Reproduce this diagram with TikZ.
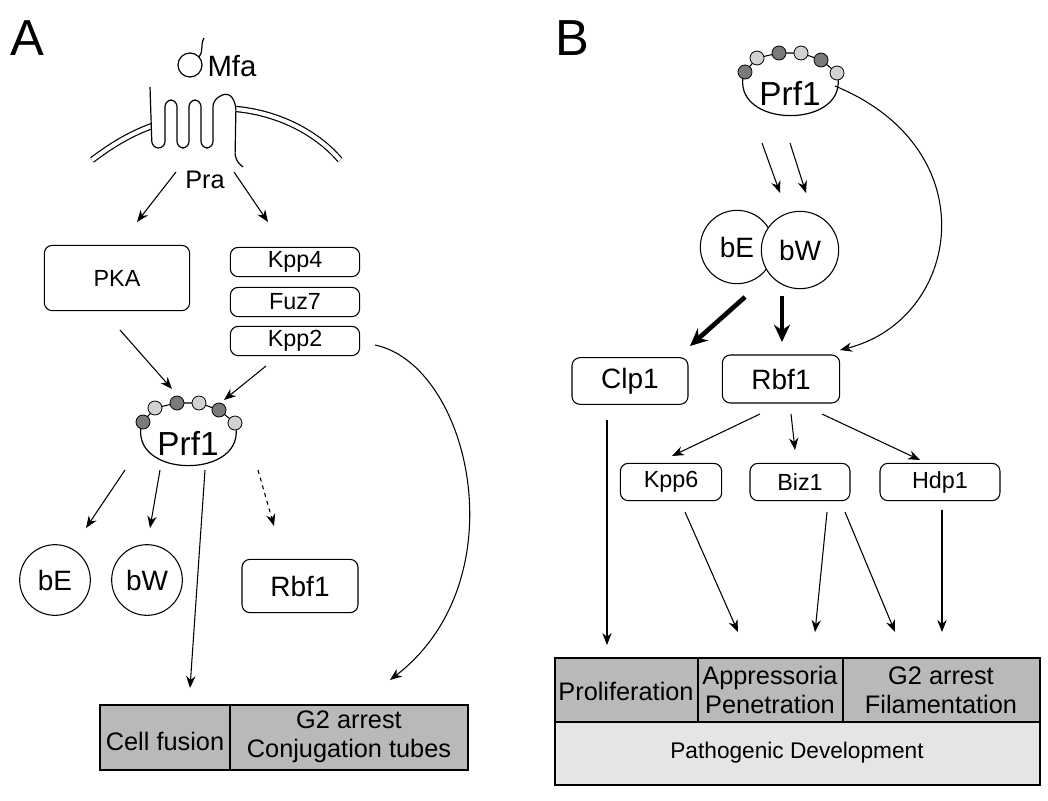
\documentclass[tikz,border=0pt]{standalone}
\usepackage{fontspec}
\setmainfont{Liberation Sans}
\usetikzlibrary{arrows.meta}
\begin{document}
\begin{tikzpicture}[x=0.75pt,y=-0.75pt,
  arr/.style={-{Stealth[length=9pt,width=7pt]},line width=0.8pt},
  thick arr/.style={-{Stealth[length=13pt,width=12pt]},line width=3.5pt},
  rbox/.style={draw,rounded corners=6pt,line width=0.8pt,inner sep=0pt},
  circ/.style={draw,circle,line width=0.8pt,inner sep=0pt},
  dk/.style={draw,fill=gray!70!black!80,line width=0.6pt},
  lt/.style={draw,fill=gray!35,line width=0.6pt},
  tab/.style={draw,line width=0.8pt,fill=gray!55},
  big/.style={font=\fontsize{21}{24}\selectfont},
  small/.style={font=\fontsize{17.5}{20}\selectfont},
  tbl/.style={font=\fontsize{19}{22}\selectfont,align=center}]
\useasboundingbox (0,0) rectangle (1048,800);
\newcommand\myprf[3]{%
  \begin{scope}[shift={(#1,#2)}]
  \draw[line width=0.9pt] (-46,-15) .. controls (-62,43) and (62,43) .. (47,-14);
  \draw[line width=0.8pt] (-45,-15)--(-33,-29)--(-11,-34)--(11,-34)--(31,-27)--(47,-14);
  \path[dk] (-45,-15) circle (7); \path[lt] (-33,-29) circle (7);
  \path[dk] (-11,-34) circle (7); \path[lt] (11,-34) circle (7);
  \path[dk] (31,-27) circle (7); \path[lt] (47,-14) circle (7);
  \node[font=\fontsize{25}{28}\selectfont] (#3) at (0,6) {Prf1};
  \end{scope}}
% Panel labels
\node[font=\fontsize{38}{42}\selectfont] (labA) at (27,38) {A};
\node[font=\fontsize{38}{42}\selectfont] (labB) at (572,38) {B};
% Panel A membrane
\draw[double,double distance=3pt,line width=0.9pt] (92,160) .. controls (112,145) and (130,134) .. (152,126);
\draw[double,double distance=3pt,line width=0.9pt] (236,109) .. controls (280,113) and (318,134) .. (340,160);
\draw[line width=0.9pt,rounded corners=5pt,fill=white] (150,87)--(152,148)--(165,148)--(165,100)--(177,100)--(177,148)--(189,148)--(189,100)--(201,100)--(201,148)--(213,148)--(213,100)--(228,92)--(236,103)--(235,160)--(243,167);
\draw[line width=0.9pt] (190,65) circle (12);
\draw[line width=0.9pt] (199,57) .. controls (204,50) and (200,45) .. (204,38);
\node[font=\fontsize{22}{25}\selectfont] (mfa) at (232,66) {Mfa};
\node[font=\fontsize{19}{22}\selectfont] (pra) at (205,180) {Pra};
\node[rbox,minimum width=109pt,minimum height=49pt,small] (pka) at (117,278) {PKA};
\node[rbox,minimum width=97pt,minimum height=22pt,small] (kpp4) at (295,262) {Kpp4};
\node[rbox,minimum width=97pt,minimum height=22pt,small] (fuz7) at (295,302) {Fuz7};
\node[rbox,minimum width=97pt,minimum height=22pt,small] (kpp2) at (295,341) {Kpp2};
\draw[arr] (176,172) -- (137,222);
\draw[arr] (234,172) -- (268,222);
\myprf{188}{437}{prfA}
\draw[arr] (120,330) -- (172,389);
\draw[arr] (266,366) -- (224,400);
\draw[arr] (375,345) .. controls (470,365) and (520,580) .. (390,680);
\node[circ,minimum size=53pt,big] (beA) at (55,580) {bE};
\node[circ,minimum size=53pt,big] (bwA) at (147,580) {bW};
\node[rbox,minimum width=87pt,minimum height=40pt,big] (rbfA) at (300,586) {Rbf1};
\draw[arr] (125,470) -- (86,528);
\draw[arr] (160,470) -- (150,528);
\draw[arr] (205,470) -- (190,688);
\draw[arr,dashed] (258,470) -- (274,526);
\draw[tab] (100,705) rectangle (468,770);
\draw[line width=0.8pt] (230,705) -- (230,770);
\node[tbl] (cf) at (165,741) {Cell fusion};
\node[tbl] (g2a) at (349,737) {G2 arrest\\Conjugation tubes};
% Panel B
\myprf{790}{87}{prfB}
\draw[arr] (835,86) .. controls (990,150) and (960,320) .. (840,350);
\node[circ,minimum size=55pt,big,fill=white] (beB) at (737,247) {bE};
\node[circ,minimum size=58pt,big,fill=white] (bwB) at (800,250) {bW};
\draw[arr] (762,143) -- (780,193);
\draw[arr] (790,143) -- (806,193);
\draw[thick arr] (745,297) -- (690,346);
\draw[thick arr] (782,296) -- (782,342);
\node[rbox,minimum width=87pt,minimum height=35pt,big] (clp) at (630,381) {Clp1};
\node[rbox,minimum width=88pt,minimum height=36pt,big] (rbfB) at (781,379) {Rbf1};
\node[rbox,minimum width=76pt,minimum height=28pt,small] (kpp6) at (671,482) {Kpp6};
\node[rbox,minimum width=75pt,minimum height=28pt,small] (biz) at (800,482) {Biz1};
\node[rbox,minimum width=90pt,minimum height=28pt,small] (hdp) at (940,482) {Hdp1};
\draw[arr] (760,414) -- (672,456);
\draw[arr] (791,414) -- (795,450);
\draw[arr] (822,414) -- (920,460);
\draw[arr] (607,420) -- (607,645);
\draw[arr] (685,512) -- (738,632);
\draw[arr] (827,512) -- (815,632);
\draw[arr] (845,512) -- (895,632);
\draw[arr] (942,510) -- (942,632);
\draw[line width=0.8pt,fill=gray!20] (555,722) rectangle (1040,785);
\draw[tab] (555,658) rectangle (1040,722);
\draw[line width=0.8pt] (698,658) -- (698,722) (843,658) -- (843,722);
\node[tbl] (prol) at (626,691) {Proliferation};
\node[tbl] (app) at (770,690) {Appressoria\\Penetration};
\node[tbl] (g2b) at (941,690) {G2 arrest\\Filamentation};
\node[font=\fontsize{17}{20}\selectfont] (pd) at (797,753) {Pathogenic Development};
\end{tikzpicture}
\end{document}
